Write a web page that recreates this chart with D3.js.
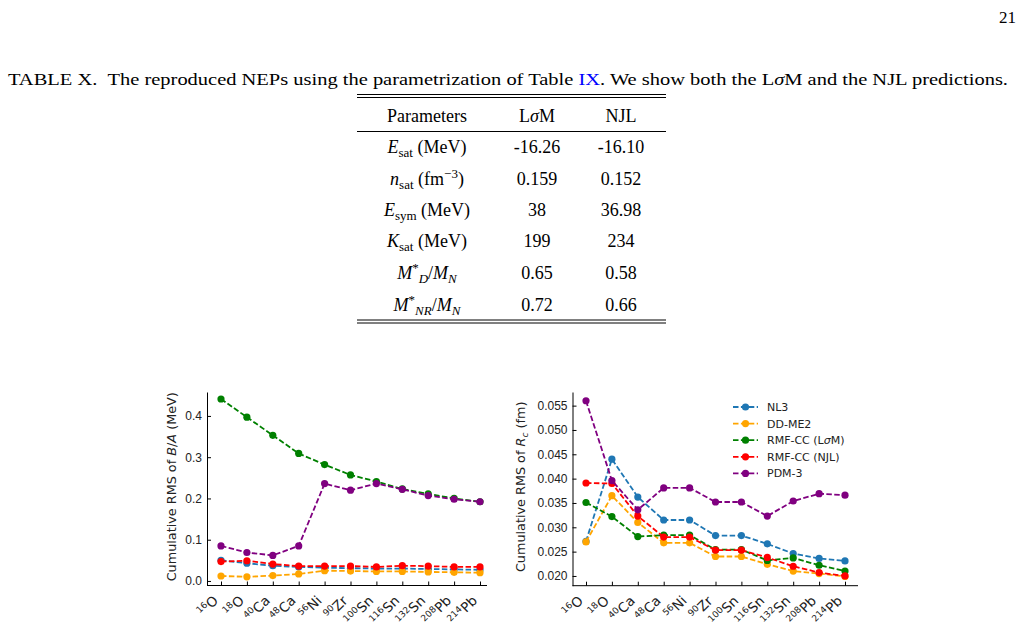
<!DOCTYPE html>
<html>
<head>
<meta charset="utf-8">
<script src="https://cdn.jsdelivr.net/npm/d3@7"></script>
<style>
  html, body { margin: 0; padding: 0; background: #fff; }
  svg { display: block; }
  .serif { font-family: "Liberation Serif", "Times New Roman", serif; }
  .sans { font-family: "DejaVu Sans", sans-serif; }
</style>
</head>
<body>
<div id="page"></div>
<script>
// nuclei along the x axis
const nuclei = ["16O", "18O", "40Ca", "48Ca", "56Ni", "90Zr", "100Sn", "116Sn", "132Sn", "208Pb", "214Pb"];
const models = ["NL3", "DD-ME2", "RMF-CC (LσM)", "RMF-CC (NJL)", "PDM-3"];
const colors = ["#1f77b4", "#ffa500", "#008000", "#ff0000", "#800080"];

// cumulative RMS of B/A (MeV)
const baNL3   = [0.050, 0.043, 0.037, 0.034, 0.032, 0.031, 0.030, 0.030, 0.029, 0.028, 0.027];
const baDDME2 = [0.012, 0.010, 0.013, 0.017, 0.025, 0.024, 0.023, 0.023, 0.022, 0.021, 0.020];
const baLsM   = [0.441, 0.397, 0.353, 0.309, 0.282, 0.257, 0.241, 0.223, 0.211, 0.200, 0.192];
const baNJL   = [0.047, 0.049, 0.041, 0.036, 0.036, 0.036, 0.034, 0.037, 0.036, 0.034, 0.034];
const baPDM3  = [0.085, 0.069, 0.062, 0.085, 0.236, 0.220, 0.236, 0.222, 0.207, 0.198, 0.192];

// cumulative RMS of R_c (fm)
const rcNL3   = [0.0271, 0.0440, 0.0362, 0.0315, 0.0315, 0.0283, 0.0283, 0.0266, 0.0246, 0.0236, 0.0231];
const rcDDME2 = [0.0270, 0.0365, 0.0310, 0.0268, 0.0268, 0.0240, 0.0240, 0.0224, 0.0210, 0.0205, 0.0199];
const rcLsM   = [0.0351, 0.0322, 0.0281, 0.0284, 0.0284, 0.0254, 0.0254, 0.0232, 0.0237, 0.0222, 0.0210];
const rcNJL   = [0.0391, 0.0390, 0.0323, 0.0280, 0.0280, 0.0253, 0.0253, 0.0238, 0.0220, 0.0207, 0.0200];
const rcPDM3  = [0.0560, 0.0396, 0.0336, 0.0381, 0.0381, 0.0352, 0.0352, 0.0323, 0.0354, 0.0369, 0.0366];

const baTicks = [0.0, 0.1, 0.2, 0.3, 0.4];
const rcTicks = [0.020, 0.025, 0.030, 0.035, 0.040, 0.045, 0.050, 0.055];

// table X
const tableCols = ["LσM", "NJL"];
const tableLsM = ["-16.26", "0.159", "38", "199", "0.65", "0.72"];
const tableNJL = ["-16.10", "0.152", "36.98", "234", "0.58", "0.66"];

const W = 1025, H = 625;
const svg = d3.select("#page").append("svg")
    .attr("width", W).attr("height", H)
    .attr("viewBox", `0 0 ${W} ${H}`);

svg.append("rect").attr("width", W).attr("height", H).attr("fill", "#fff");

// page number
svg.append("text").classed("serif", true)
    .attr("x", 1016).attr("y", 23)
    .attr("text-anchor", "end")
    .style("font-size", "17px")
    .text("21");

// caption, stretched to its width on the page
const cap = svg.append("text").classed("serif", true)
    .attr("x", 8).attr("y", 85)
    .attr("textLength", 1000)
    .attr("lengthAdjust", "spacingAndGlyphs")
    .style("font-size", "16px");
cap.append("tspan").text("TABLE X.\u00a0\u00a0The reproduced NEPs using the parametrization of Table ");
cap.append("tspan").attr("fill", "#0000ff").text("IX");
cap.append("tspan").text(". We show both the L");
cap.append("tspan").style("font-style", "italic").text("σ");
cap.append("tspan").text("M and the NJL predictions.");

// ---------- table ----------
const tbl = svg.append("g").classed("serif", true).style("font-size", "18px");
const tx0 = 357, tx1 = 666;
const colX = [427, 537, 621];
[[94.5, 97.5], [131.5], [320, 323]].flat().forEach(y => {
    tbl.append("line").attr("x1", tx0).attr("x2", tx1).attr("y1", y).attr("y2", y)
        .attr("stroke", "#000").attr("stroke-width", 1);
});

tbl.append("text").attr("x", colX[0]).attr("y", 122).attr("text-anchor", "middle").text("Parameters");
tableCols.forEach((c, i) => {
    const t = tbl.append("text").attr("x", colX[i + 1]).attr("y", 122).attr("text-anchor", "middle");
    if (c === "LσM") {
        t.append("tspan").text("L");
        t.append("tspan").style("font-style", "italic").text("σ");
        t.append("tspan").text("M");
    } else t.text(c);
});

const rowY = [153, 185, 216, 247, 279, 311];

// parameter names, as math-like text
function symSub(t, main, sub, rest) {
    t.append("tspan").style("font-style", "italic").text(main);
    t.append("tspan").attr("dy", 4).style("font-size", "13px").text(sub);
    t.append("tspan").attr("dy", -4).text("\u00a0" + rest);
}
function massRatio(t, sub) {
    t.append("tspan").style("font-style", "italic").text("M");
    t.append("tspan").attr("dy", -7).style("font-size", "13px").text("*");
    t.append("tspan").attr("dy", 11).style("font-size", "13px").style("font-style", "italic").text(sub);
    t.append("tspan").attr("dy", -4).text("/");
    t.append("tspan").style("font-style", "italic").text("M");
    t.append("tspan").attr("dy", 4).style("font-size", "13px").style("font-style", "italic").text("N");
}
const names = [
    t => symSub(t, "E", "sat", "(MeV)"),
    t => {
        t.append("tspan").style("font-style", "italic").text("n");
        t.append("tspan").attr("dy", 4).style("font-size", "13px").text("sat");
        t.append("tspan").attr("dy", -4).text("\u00a0(fm");
        t.append("tspan").attr("dy", -7).style("font-size", "13px").text("−3");
        t.append("tspan").attr("dy", 7).text(")");
    },
    t => symSub(t, "E", "sym", "(MeV)"),
    t => symSub(t, "K", "sat", "(MeV)"),
    t => massRatio(t, "D"),
    t => massRatio(t, "NR")
];
names.forEach((f, i) => {
    const t = tbl.append("text").attr("x", colX[0]).attr("y", rowY[i]).attr("text-anchor", "middle");
    f(t);
});
tbl.selectAll("text.v1").data(tableLsM).join("text").classed("v1", true)
    .attr("x", colX[1]).attr("y", (d, i) => rowY[i]).attr("text-anchor", "middle").text(d => d);
tbl.selectAll("text.v2").data(tableNJL).join("text").classed("v2", true)
    .attr("x", colX[2]).attr("y", (d, i) => rowY[i]).attr("text-anchor", "middle").text(d => d);

// ---------- charts ----------
function drawPanel(opts) {
    const { left, right, top, bottom, first, last, domain, ticks, fmt, series, label, labelX } = opts;
    const g = svg.append("g").classed("sans", true);

    const x = d3.scalePoint().domain(nuclei).range([first, last]);
    const y = d3.scaleLinear().domain(domain).range([bottom, top]);

    // y axis, ticks pointing in
    const ya = g.append("g").attr("transform", `translate(${left},0)`)
        .call(d3.axisLeft(y).tickValues(ticks).tickFormat(d3.format(fmt))
            .tickSizeInner(-4).tickSizeOuter(0).tickPadding(5));
    ya.selectAll("text").style("font-size", "12px").attr("fill", "#222");

    const xa = g.append("g").attr("transform", `translate(0,${bottom})`)
        .call(d3.axisBottom(x).tickSizeInner(-4).tickSizeOuter(0).tickFormat(""));
    // spine spans the whole plot width
    xa.select(".domain").attr("d", `M${left},0H${right}`);
    [ya, xa].forEach(a => a.selectAll("line, path").attr("stroke", "#000").attr("stroke-width", 1));

    // rotated nucleus labels
    nuclei.forEach(n => {
        const m = n.match(/^(\d+)(\D+)$/);
        const t = g.append("text")
            .attr("transform", `translate(${x(n) - 2},${bottom + 16}) rotate(-45)`)
            .attr("text-anchor", "end")
            .style("font-size", "13.5px").attr("fill", "#222");
        t.append("tspan").attr("dy", -5).style("font-size", "9px").text(m[1]);
        t.append("tspan").attr("dy", 5).text(m[2]);
    });

    // y label
    const yl = g.append("text")
        .attr("transform", `translate(${labelX},${(top + bottom) / 2 - 2}) rotate(-90)`)
        .attr("text-anchor", "middle")
        .style("font-size", "12.8px").attr("fill", "#222");
    label(yl);

    const line = d3.line().x((d, i) => x(nuclei[i])).y(d => y(d));
    series.forEach((vals, k) => {
        g.append("path").datum(vals)
            .attr("d", line)
            .attr("fill", "none")
            .attr("stroke", colors[k])
            .attr("stroke-width", 1.8)
            .attr("stroke-dasharray", "5.5,2.4");
        g.selectAll(null).data(vals).join("circle")
            .attr("cx", (d, i) => x(nuclei[i]))
            .attr("cy", d => y(d))
            .attr("r", 3.6)
            .attr("fill", colors[k]);
    });
    return g;
}

drawPanel({
    left: 207, right: 487, top: 392, bottom: 585.5, first: 221, last: 480,
    domain: [-0.011, 0.458], ticks: baTicks, fmt: ".1f", labelX: 176,
    series: [baNL3, baDDME2, baLsM, baNJL, baPDM3],
    label: t => {
        t.append("tspan").text("Cumulative RMS of ");
        t.append("tspan").style("font-style", "italic").text("B");
        t.append("tspan").text("/");
        t.append("tspan").style("font-style", "italic").text("A");
        t.append("tspan").text(" (MeV)");
    }
});

const right = drawPanel({
    left: 572.5, right: 858, top: 392, bottom: 585.7, first: 586, last: 845,
    domain: [0.018, 0.0578], ticks: rcTicks, fmt: ".3f", labelX: 525,
    series: [rcNL3, rcDDME2, rcLsM, rcNJL, rcPDM3],
    label: t => {
        t.append("tspan").text("Cumulative RMS of ");
        t.append("tspan").style("font-style", "italic").text("R");
        t.append("tspan").attr("dy", 3).style("font-size", "9px").style("font-style", "italic").text("c");
        t.append("tspan").attr("dy", -3).text(" (fm)");
    }
});

// legend
const lg = right.append("g").attr("transform", "translate(733,407)");
models.forEach((m, k) => {
    const row = lg.append("g").attr("transform", `translate(0,${k * 16.6})`);
    row.append("line").attr("x1", 0).attr("x2", 25).attr("y1", 0).attr("y2", 0)
        .attr("stroke", colors[k]).attr("stroke-width", 1.8).attr("stroke-dasharray", "5.5,2.4");
    row.append("circle").attr("cx", 12.5).attr("cy", 0).attr("r", 3.6).attr("fill", colors[k]);
    const t = row.append("text").attr("x", 34).attr("y", 4)
        .style("font-size", "11px").attr("fill", "#222");
    if (m.includes("σ")) {
        t.append("tspan").text("RMF-CC (L");
        t.append("tspan").style("font-style", "italic").text("σ");
        t.append("tspan").text("M)");
    } else t.text(m);
});
</script>
</body>
</html>
